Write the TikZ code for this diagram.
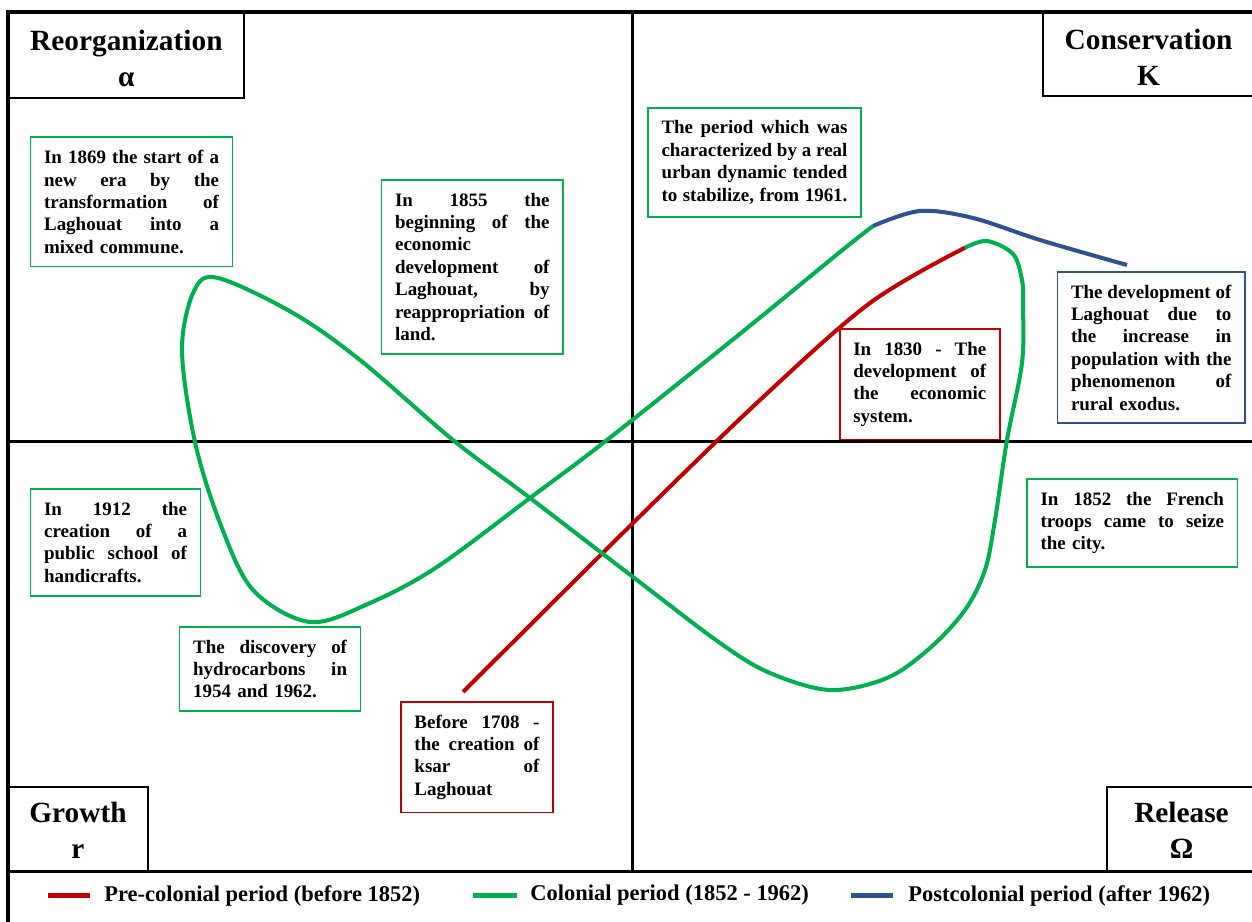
\documentclass[tikz,border=0pt]{standalone}
\usepackage{fontspec}
\setmainfont{Liberation Serif}
\definecolor{precol}{RGB}{192,0,0}
\definecolor{col}{RGB}{0,176,80}
\definecolor{postcol}{RGB}{47,82,143}
% one justified line of a note
\newcommand{\jrow}[1]{\hbox to\hsize{\frenchspacing\spaceskip=0.25em plus 1fil\relax#1}\par}

\begin{document}
\begin{tikzpicture}[x=0.02cm, y=-0.02cm,
    frame/.style={line width=2pt},
    cornerline/.style={line width=1.1pt},
    phase/.style={font=\fontsize{16.7}{20.5}\selectfont\bfseries, align=center, inner sep=0pt},
    note/.style={draw, line width=1pt, anchor=north west, outer sep=0pt,
        inner xsep=0.27cm, inner ysep=0.26cm, font=\fontsize{10.8}{12.75}\selectfont\bfseries},
    curve/.style={line width=2.3pt, smooth, tension=0.55},
    legend/.style={font=\fontsize{12.8}{15}\selectfont\bfseries, anchor=west, inner sep=0pt},
    sample/.style={line width=2.8pt}
]
    \useasboundingbox (0,0) rectangle (1252,922);

    % Frame and quadrants
    \draw[frame] (8,922) -- (8,12) -- (1252,12);
    \draw[frame] (632.7,12) -- (632.7,871.7);
    \draw[frame] (8,441.7) -- (1252,441.7);
    \draw[frame] (8,871.7) -- (1252,871.7);

    % Phases of the cycle
    \draw[cornerline] (8,98.3) -| (243.7,12);
    \node[phase] (reorg) at (126.4,58) {Reorganization\\α};
    \draw[cornerline] (1252,96) -| (1042.6,12);
    \node[phase] (conserv) at (1148.6,57) {Conservation\\K};
    \draw[cornerline] (8,786.7) -| (148,871.7);
    \node[phase] (growth) at (78,830.6) {Growth\\r};
    \draw[cornerline] (1252,786.7) -| (1107,871.7);
    \node[phase] (release) at (1181.5,830.6) {Release\\Ω};

    % Events
    \node[note, col, text=black, text width=3.5cm] (n1869) at (30.6,137.3)
        {\jrow{In 1869 the start of a}\jrow{new era by the}\jrow{transformation of}\jrow{Laghouat into a}mixed commune.};
    \node[note, col, text=black, text width=3.09cm] (n1855) at (381.6,180)
        {\jrow{In 1855 the}\jrow{beginning of the}economic\par\jrow{development of}\jrow{Laghouat, by}\jrow{reappropriation of}land.};
    \node[note, col, text=black, text width=3.72cm] (n1961) at (648,107.7)
        {\jrow{The period which was}\jrow{characterized by a real}\jrow{urban dynamic tended}\jrow{to stabilize, from 1961.}};
    \node[note, precol, text=black, text width=2.66cm] (n1830) at (839.8,329)
        {\jrow{In 1830 - The}\jrow{development of}\jrow{the economic}system.};
    \node[note, postcol, text=black, text width=3.21cm] (nexodus) at (1057.5,271.7)
        {\jrow{The development of}\jrow{Laghouat due to}\jrow{the increase in}\jrow{population with the}\jrow{phenomenon of}rural exodus.};
    \node[note, col, text=black, text width=2.86cm] (n1912) at (30.6,489)
        {\jrow{In 1912 the}\jrow{creation of a}\jrow{public school of}handicrafts.};
    \node[note, col, text=black, text width=3.08cm] (nhydro) at (179.6,626.7)
        {\jrow{The discovery of}\jrow{hydrocarbons in}1954 and 1962.};
    \node[note, precol, text=black, text width=2.5cm] (n1708) at (401,701.7)
        {\jrow{Before 1708 -}\jrow{the creation of}\jrow{ksar of}Laghouat};
    \node[note, col, text=black, text width=3.67cm] (n1852) at (1027,479)
        {\jrow{In 1852 the French}\jrow{troops came to seize}the city.};

    % Adaptive cycle
    \draw[curve, precol] plot coordinates {(463,692) (633,523) (760,400) (870,303) (965,247.7)};
    \draw[curve, col] plot coordinates {(965,247.7) (987,241) (1013,254) (1022,280) (1023,305) (1022,363)
        (1007,440) (995,520) (985,570) (965,610) (930,648) (887,678) (830,690) (770,673) (720,643)
        (633,577) (530,498) (453,440) (360,360) (293,313) (218,278) (194,291) (182,350) (195,442)
        (220,523) (253,590) (310,622) (370,603) (437,567) (530,498) (607,440) (741,333) (840,252) (873,226)};
    \draw[curve, postcol] plot coordinates {(873,226) (920,211) (973,218) (1040,240) (1127,265)};

    % Legend
    \node[legend] (lgpre) at (104,895.5) {Pre-colonial period (before 1852)};
    \node[legend] (lgcol) at (530,895.5) {Colonial period (1852 - 1962)};
    \node[legend] (lgpost) at (908,895.5) {Postcolonial period (after 1962)};
    \draw[sample, precol] ([xshift=-0.28cm]lgpre.west) -- ++(-42,0);
    \draw[sample, col] ([xshift=-0.26cm]lgcol.west) -- ++(-44,0);
    \draw[sample, postcol] ([xshift=-0.3cm]lgpost.west) -- ++(-42,0);
\end{tikzpicture}
\end{document}
